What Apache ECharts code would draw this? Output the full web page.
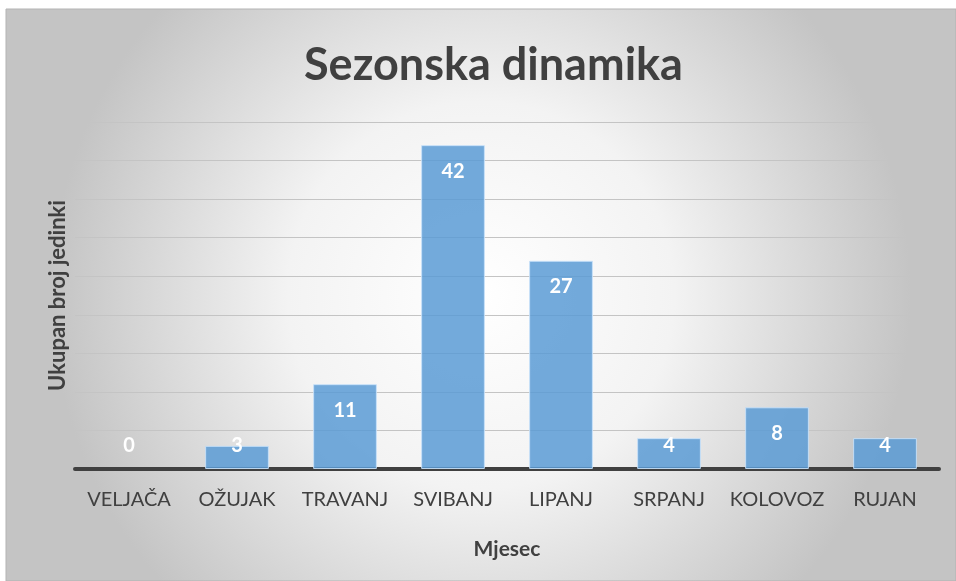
<!DOCTYPE html>
<html>
<head>
<meta charset="utf-8">
<script src="https://cdn.jsdelivr.net/npm/echarts@6/dist/echarts.min.js"></script>
<style>
html,body{margin:0;padding:0;background:#fff;}
#c{width:956px;height:581px;}
</style>
</head>
<body>
<div id="c"></div>
<script>
var categories = ['VELJAČA','OŽUJAK','TRAVANJ','SVIBANJ','LIPANJ','SRPANJ','KOLOVOZ','RUJAN'];
var values = [0,3,11,42,27,4,8,4];
var yMin = 0, yMax = 45, yInterval = 5;
var titleText = 'Sezonska dinamika';
var xTitle = 'Mjesec';
var yTitle = 'Ukupan broj jedinki';

var chart = echarts.init(document.getElementById('c'));
var font = 'Lato, "Open Sans", sans-serif';

var data = values.map(function(v){
  var small = v < 6;
  var item = {
    value: v,
    label: small ? {position:'insideBottom', distance: 13} : {position:'insideTop', distance: 16}
  };
  if (v === 0) item.itemStyle = {borderWidth: 0};
  return item;
});

chart.setOption({
  backgroundColor: '#ffffff',
  graphic: [{
    type: 'rect', z: -10, silent: true,
    shape: {x: 6, y: 9, width: 950, height: 572},
    style: {
      fill: new echarts.graphic.RadialGradient(0.5, 0.5, 0.75, [
        {offset: 0, color: '#ffffff'},
        {offset: 0.45, color: '#f3f3f3'},
        {offset: 1, color: '#c4c4c4'}
      ]),
      stroke: '#b3b3b3', lineWidth: 1
    }
  }],
  title: {
    text: titleText, left: 299, top: 38,
    textStyle: {fontFamily: font, fontSize: 45, fontWeight: 'bold', color: '#404040'}
  },
  grid: {left: 75, right: 17, top: 122, bottom: 112},
  xAxis: {
    type: 'category', data: categories,
    name: xTitle, nameLocation: 'middle', nameGap: 70,
    nameTextStyle: {fontFamily: font, fontSize: 21, fontWeight: 'bold', color: '#404040'},
    axisLine: {lineStyle: {color: '#404040', width: 4}},
    axisTick: {show: false},
    axisLabel: {interval: 0, fontFamily: font, fontSize: 20, color: '#404040', margin: 21}
  },
  yAxis: {
    type: 'value', min: yMin, max: yMax, interval: yInterval,
    name: yTitle, nameLocation: 'middle', nameGap: 6, nameRotate: 90,
    nameTextStyle: {fontFamily: font, fontSize: 22, fontWeight: 'bold', color: '#404040'},
    axisLine: {show: false}, axisTick: {show: false},
    axisLabel: {show: false},
    splitLine: {lineStyle: {color: '#c4c4c4', width: 1}}
  },
  series: [{
    type: 'bar', data: data, barWidth: '59%',
    itemStyle: {color: 'rgba(91,155,213,0.85)', borderColor: 'rgba(200,225,250,0.9)', borderWidth: 1},
    label: {show: true, color: '#ffffff', fontFamily: font, fontSize: 20, fontWeight: 'bold'}
  }]
});
</script>
</body>
</html>
